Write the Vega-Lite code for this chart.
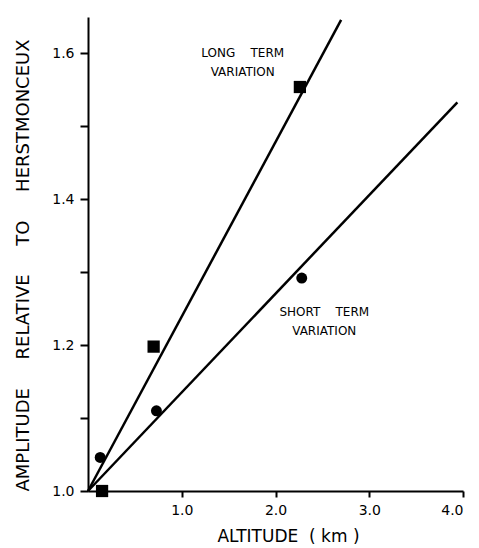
{
  "$schema": "https://vega.github.io/schema/vega-lite/v6.json",
  "autosize": "none",
  "width": 375,
  "height": 474,
  "padding": {"left": 88, "top": 17, "right": 16, "bottom": 57},
  "background": "white",
  "config": {
    "view": {"stroke": null},
    "font": "DejaVu Sans",
    "axis": {"domainColor": "black", "domainWidth": 2, "tickColor": "black", "tickWidth": 2, "grid": false, "labelColor": "black", "titleColor": "black", "labelFont": "DejaVu Sans", "titleFont": "DejaVu Sans", "titleFontWeight": "normal"}
  },
  "datasets": {
    "points": [
      {"altitude": 0.15, "amp": 1.0, "series": "Long term"},
      {"altitude": 0.70, "amp": 1.198, "series": "Long term"},
      {"altitude": 2.26, "amp": 1.554, "series": "Long term"},
      {"altitude": 0.13, "amp": 1.046, "series": "Short term"},
      {"altitude": 0.73, "amp": 1.110, "series": "Short term"},
      {"altitude": 2.28, "amp": 1.292, "series": "Short term"}
    ],
    "lines": [
      {"altitude": 0.0, "amp": 1.0, "series": "Long term"},
      {"altitude": 2.70, "amp": 1.646, "series": "Long term"},
      {"altitude": 0.0, "amp": 1.0, "series": "Short term"},
      {"altitude": 3.94, "amp": 1.533, "series": "Short term"}
    ],
    "labels": [
      {"altitude": 1.65, "amp": 1.600, "text": "LONG\u00a0\u00a0\u00a0\u00a0TERM"},
      {"altitude": 1.65, "amp": 1.575, "text": "VARIATION"},
      {"altitude": 2.52, "amp": 1.245, "text": "SHORT\u00a0\u00a0\u00a0\u00a0TERM"},
      {"altitude": 2.52, "amp": 1.220, "text": "VARIATION"}
    ]
  },
  "layer": [
    {
      "data": {"name": "lines"},
      "mark": {"type": "line", "color": "black", "strokeWidth": 2.5, "clip": false},
      "encoding": {
        "x": {"field": "altitude", "type": "quantitative", "scale": {"domain": [0, 4]},
          "axis": {"values": [1, 2, 3, 4], "format": ".1f", "labelFontSize": 14, "tickSize": 6, "labelPadding": 6, "title": "ALTITUDE\u00a0\u00a0(\u00a0km\u00a0)", "titleFontSize": 17, "titlePadding": 11, "titleX": 200}},
        "y": {"field": "amp", "type": "quantitative", "scale": {"domain": [1.0, 1.64], "zero": false},
          "axis": {"values": [1.0, 1.1, 1.2, 1.3, 1.4, 1.5, 1.6], "labelExpr": "round(datum.value*10) % 2 == 0 ? format(datum.value, '.1f') : ''", "labelFontSize": 14, "tickSize": 8, "labelPadding": 6, "title": "AMPLITUDE\u00a0\u00a0\u00a0\u00a0\u00a0RELATIVE\u00a0\u00a0\u00a0\u00a0\u00a0TO\u00a0\u00a0\u00a0\u00a0\u00a0HERSTMONCEUX", "titleFontSize": 18, "titlePadding": 19, "titleY": 248}},
        "detail": {"field": "series", "type": "nominal"}
      }
    },
    {
      "data": {"name": "points"},
      "mark": {"type": "point", "filled": true, "color": "black", "opacity": 1, "clip": false},
      "encoding": {
        "x": {"field": "altitude", "type": "quantitative"},
        "y": {"field": "amp", "type": "quantitative"},
        "shape": {"field": "series", "type": "nominal", "scale": {"domain": ["Long term", "Short term"], "range": ["square", "circle"]}, "legend": null},
        "size": {"field": "series", "type": "nominal", "scale": {"domain": ["Long term", "Short term"], "range": [150, 120]}, "legend": null}
      }
    },
    {
      "data": {"name": "labels"},
      "mark": {"type": "text", "fontSize": 12, "color": "black", "align": "center", "baseline": "middle"},
      "encoding": {
        "x": {"field": "altitude", "type": "quantitative"},
        "y": {"field": "amp", "type": "quantitative"},
        "text": {"field": "text", "type": "nominal"}
      }
    }
  ]
}
